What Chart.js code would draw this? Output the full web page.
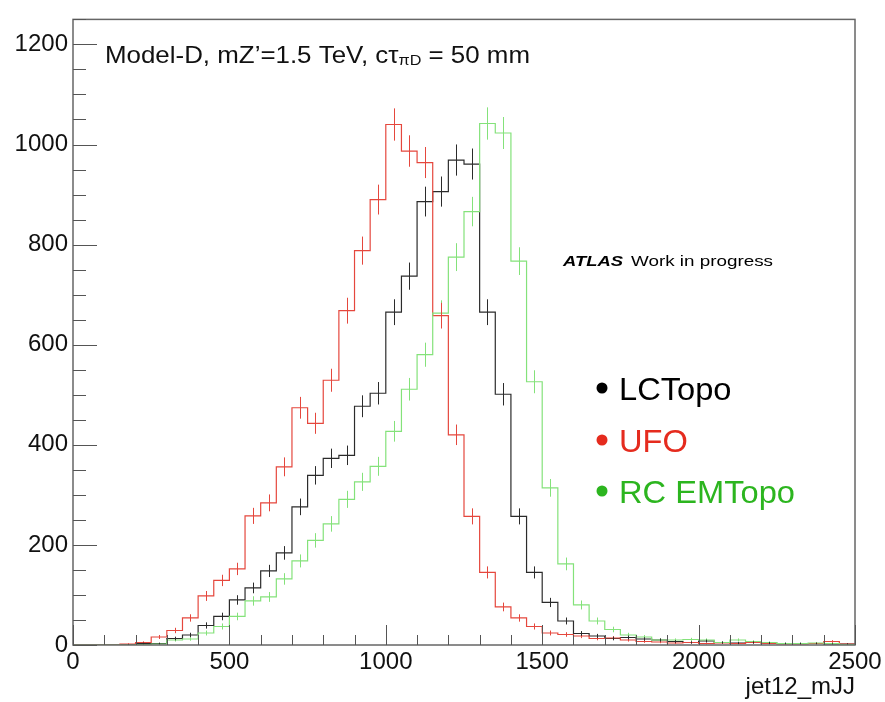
<!DOCTYPE html>
<html>
<head>
<meta charset="utf-8">
<script src="https://cdn.jsdelivr.net/npm/chart.js@4.4.0/dist/chart.umd.min.js"></script>
<style>
  html, body { margin: 0; padding: 0; background: #fff; }
</style>
</head>
<body>
<canvas id="hist" width="885" height="702"></canvas>
<script>
const ctx = document.getElementById('hist');

// bin edges of jet12_mJJ (50 GeV bins)
const binEdges = [0, 50, 100, 150, 200, 250, 300, 350, 400, 450, 500, 550, 600, 650, 700, 750, 800, 850, 900, 950,
  1000, 1050, 1100, 1150, 1200, 1250, 1300, 1350, 1400, 1450, 1500, 1550, 1600, 1650, 1700, 1750, 1800, 1850, 1900, 1950,
  2000, 2050, 2100, 2150, 2200, 2250, 2300, 2350, 2400, 2450, 2500];

// counts per bin
const lctopo = [0, 0, 0, 1, 3, 3, 13, 20, 39, 57, 90, 114, 148, 184, 276, 339, 373, 379, 477, 503,
  665, 737, 886, 906, 969, 961, 665, 501, 257, 145, 85, 48, 23, 18, 13, 15, 12, 10, 7, 5,
  8, 5, 4, 5, 4, 3, 3, 3, 2, 2];
const ufo = [0, 0, 0, 2, 5, 16, 29, 54, 98, 129, 152, 258, 284, 356, 474, 443, 529, 668, 788, 890,
  1040, 987, 964, 658, 420, 257, 145, 76, 54, 37, 24, 21, 18, 13, 14, 10, 7, 6, 4, 5,
  3, 4, 3, 5, 3, 2, 2, 3, 7, 2];
const rcEmtopo = [0, 0, 0, 0, 1, 2, 10, 12, 24, 37, 57, 88, 96, 132, 168, 209, 242, 291, 326, 357,
  427, 511, 580, 663, 775, 866, 1042, 1023, 767, 526, 314, 162, 80, 48, 31, 20, 16, 10, 10, 11,
  10, 5, 10, 7, 5, 3, 3, 4, 3, 1];

const xTicks = [0, 500, 1000, 1500, 2000, 2500];
const yTicks = [0, 200, 400, 600, 800, 1000, 1200];

const FONT = "'Liberation Sans', Arial, sans-serif";

// histogram outline: one point per left edge + the last right edge
function steps(counts) {
  return binEdges.map((e, i) => ({ x: e, y: counts[Math.min(i, counts.length - 1)] }));
}

function fitText(c, str, x, yBase, width) {
  const w = c.measureText(str).width;
  c.save();
  c.translate(x, yBase);
  c.scale(width / w, 1);
  c.fillText(str, 0, 0);
  c.restore();
}

const histDecor = {
  id: 'histDecor',
  afterDatasetsDraw(chart) {
    const c = chart.ctx;
    const { x, y } = chart.scales;
    const area = chart.chartArea;
    c.save();
    c.beginPath();
    c.rect(area.left, area.top, area.right - area.left, area.bottom - area.top);
    c.clip();
    // sqrt(N) error bars at bin centres
    chart.data.datasets.forEach(ds => {
      c.strokeStyle = ds.borderColor;
      c.lineWidth = 1;
      ds.counts.forEach((v, i) => {
        if (v <= 0) return;
        const px = Math.round(x.getPixelForValue((binEdges[i] + binEdges[i + 1]) / 2)) + 0.5;
        const err = Math.sqrt(v);
        c.beginPath();
        c.moveTo(px, y.getPixelForValue(v - err));
        c.lineTo(px, y.getPixelForValue(v + err));
        c.stroke();
      });
    });
    c.restore();
  },
  afterDraw(chart) {
    const c = chart.ctx;
    const { x, y } = chart.scales;
    const a = chart.chartArea;
    c.save();

    // frame
    c.strokeStyle = '#666';
    c.lineWidth = 1.5;
    c.strokeRect(a.left, a.top, a.right - a.left, a.bottom - a.top);

    // ROOT-style inward ticks
    c.lineWidth = 1;
    c.strokeStyle = '#555';
    for (let v = 0; v <= 1250; v += 50) {
      const py = Math.round(y.getPixelForValue(v)) + 0.5;
      const len = v % 200 === 0 ? 24 : 13;
      c.beginPath(); c.moveTo(a.left, py); c.lineTo(a.left + len, py); c.stroke();
    }
    for (let v = 0; v <= 2500; v += 100) {
      const px = Math.round(x.getPixelForValue(v)) + 0.5;
      const len = v % 500 === 0 ? 20 : 10;
      c.beginPath(); c.moveTo(px, a.bottom); c.lineTo(px, a.bottom - len); c.stroke();
    }

    // title
    c.fillStyle = '#111';
    c.textBaseline = 'alphabetic';
    c.textAlign = 'left';
    const p1 = 'Model-D, mZ\u2019=1.5 TeV, c\u03c4', p2 = '\u03c0D', p3 = ' = 50 mm';
    c.font = '24px ' + FONT;
    const w1 = c.measureText(p1).width, w3 = c.measureText(p3).width;
    c.font = '15px ' + FONT;
    const w2 = c.measureText(p2).width;
    const sx = 425 / (w1 + w2 + w3);
    c.save();
    c.translate(105, 63);
    c.scale(sx, 1);
    c.font = '24px ' + FONT;
    c.fillText(p1, 0, 0);
    c.font = '15px ' + FONT;
    c.fillText(p2, w1, 2);
    c.font = '24px ' + FONT;
    c.fillText(p3, w1 + w2, 0);
    c.restore();

    // ATLAS label
    c.fillStyle = '#000';
    c.font = 'italic bold 15.5px ' + FONT;
    fitText(c, 'ATLAS', 563, 266, 60);
    c.font = '15.5px ' + FONT;
    fitText(c, 'Work in progress', 631, 266, 142);

    // legend
    const legend = [
      ['LCTopo', '#000000', 400],
      ['UFO', '#e52b1e', 452],
      ['RC EMTopo', '#2cb51f', 503]
    ];
    c.font = '32px ' + FONT;
    legend.forEach(([txt, col, base]) => {
      c.fillStyle = col;
      c.beginPath();
      c.arc(602, base - 12, 5.5, 0, Math.PI * 2);
      c.fill();
      fitText(c, txt, 619, base, c.measureText(txt).width * 1.02);
    });
    c.restore();
  }
};

const chart = new Chart(ctx, {
  type: 'line',
  data: {
    datasets: [
      { label: 'RC EMTopo', data: steps(rcEmtopo), counts: rcEmtopo, borderColor: '#84e27a' },
      { label: 'UFO', data: steps(ufo), counts: ufo, borderColor: '#e5473d' },
      { label: 'LCTopo', data: steps(lctopo), counts: lctopo, borderColor: '#2b2b2b' }
    ].map(ds => Object.assign(ds, { stepped: 'before', borderWidth: 1.2, pointRadius: 0, fill: false }))
  },
  options: {
    responsive: false,
    animation: false,
    devicePixelRatio: 1,
    layout: { padding: { top: 7, right: 30, left: 0, bottom: 0 } },
    plugins: { legend: { display: false }, tooltip: { enabled: false } },
    scales: {
      x: {
        type: 'linear',
        min: 0,
        max: 2500,
        afterBuildTicks: s => { s.ticks = xTicks.map(v => ({ value: v })); },
        afterFit: s => { s.height = 57; },
        grid: { display: false, drawTicks: false },
        border: { display: false },
        ticks: { color: '#111', font: { family: FONT, size: 24 }, padding: 3, maxRotation: 0, callback: v => String(v) },
        title: {
          display: true,
          text: 'jet12_mJJ',
          align: 'end',
          color: '#111',
          font: { family: FONT, size: 24 },
          padding: { top: 2, bottom: 0 }
        }
      },
      y: {
        min: 0,
        max: 1250,
        afterBuildTicks: s => { s.ticks = yTicks.map(v => ({ value: v })); },
        afterFit: s => { s.width = 73; },
        grid: { display: false, drawTicks: false },
        border: { display: false },
        ticks: { color: '#111', font: { family: FONT, size: 24 }, padding: 5, callback: v => String(v) }
      }
    }
  },
  plugins: [histDecor]
});
</script>
</body>
</html>
